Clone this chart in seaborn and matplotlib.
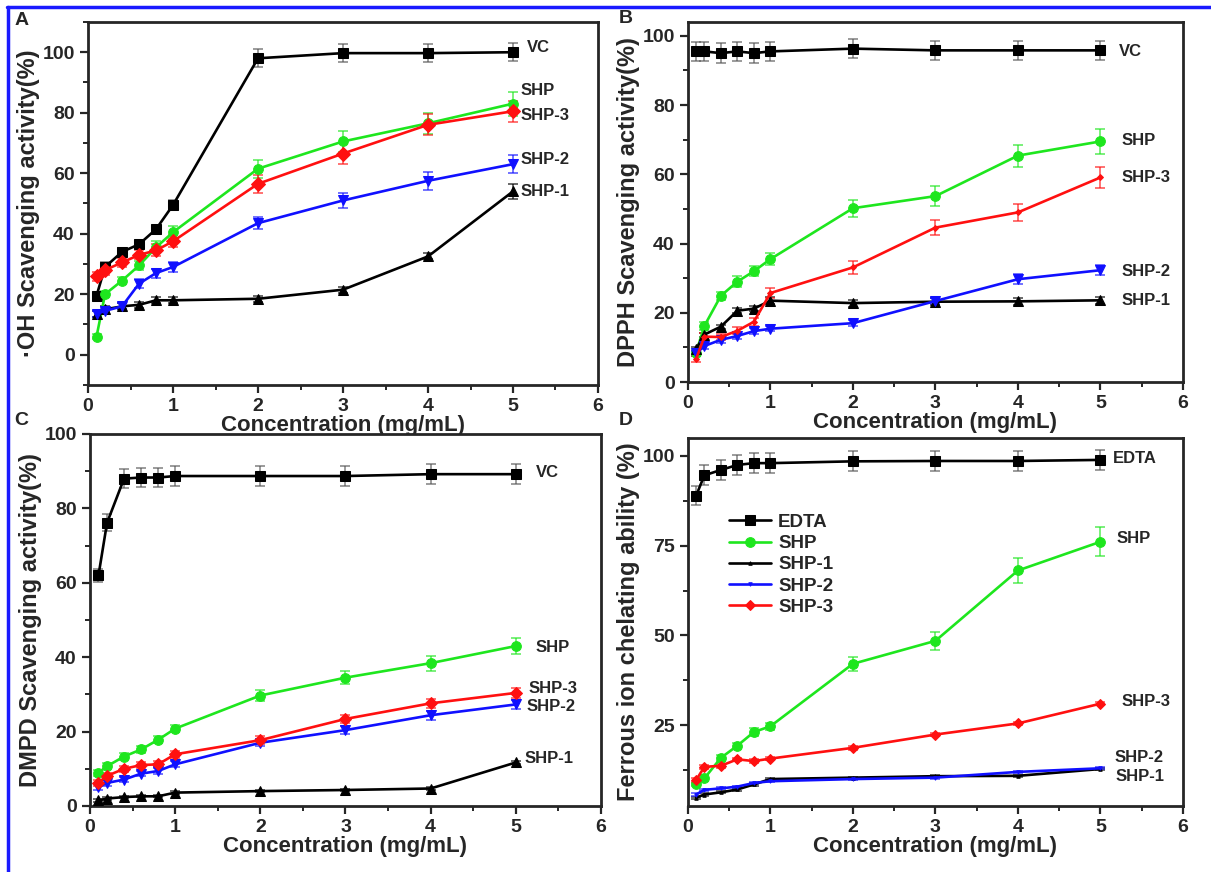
import matplotlib
matplotlib.use("Agg")
import matplotlib.pyplot as plt
from matplotlib.lines import Line2D
from matplotlib.ticker import MultipleLocator
import pandas as pd
import seaborn as sns

# concentrations (mg/mL)
conc = [0.1, 0.2, 0.4, 0.6, 0.8, 1, 2, 3, 4, 5]

# A: .OH scavenging
oh_vc = [19.5, 29, 34, 36.5, 41.5, 49.5, 98, 99.7, 99.7, 100]
oh_shp = [6, 20, 24.5, 29.5, 35.5, 40.5, 61.5, 70.5, 76.5, 83]
oh_shp1 = [13.5, 15, 16, 16.5, 18, 18, 18.5, 21.5, 32.5, 54]
oh_shp2 = [13.5, 14.5, 16, 23.5, 27, 29, 43.5, 51, 57.5, 63]
oh_shp3 = [26, 28, 30.5, 33, 34.5, 37.5, 56.5, 66.5, 76, 80.5]
oh_vc_err = [1, 1.5, 1.2, 1.2, 1.2, 1.5, 3, 3, 3, 3]
oh_shp_err = [0.8, 1, 1.2, 1.5, 2, 2, 3, 3.5, 3.5, 4]
oh_shp1_err = [1, 1, 1, 1, 1, 1, 1, 1, 1, 2.5]
oh_shp2_err = [1, 1, 1, 1.5, 1.5, 1.5, 2, 2.5, 3, 3]
oh_shp3_err = [1.5, 1.5, 1.5, 1.5, 2, 2, 3, 3.5, 3.5, 3.5]

# B: DPPH scavenging
dpph_vc = [95.5, 95.5, 95, 95.5, 95, 95.5, 96.3, 95.8, 95.8, 95.8]
dpph_shp = [8.5, 16.2, 24.9, 29, 32, 35.5, 50.2, 53.7, 65.4, 69.5]
dpph_shp1 = [9.5, 13.7, 16, 20.6, 21.2, 23.5, 22.8, 23.2, 23.3, 23.6]
dpph_shp2 = [8.3, 10.4, 12.2, 13.3, 14.7, 15.4, 17, 23.4, 29.7, 32.3]
dpph_shp3 = [6.6, 13.1, 13, 14.8, 17.4, 25.7, 33.1, 44.6, 49, 59.1]
dpph_vc_err = [2.8, 2.8, 2.8, 2.8, 2.8, 2.8, 2.8, 2.8, 2.8, 2.8]
dpph_shp_err = [1, 1.2, 1.2, 1.5, 1.5, 1.8, 2.5, 2.8, 3.2, 3.5]
dpph_shp1_err = [0.5, 0.6, 0.6, 0.8, 0.8, 1, 1, 1, 1, 1]
dpph_shp2_err = [0.8, 0.8, 0.8, 0.8, 0.8, 0.8, 0.8, 1, 1.5, 1.5]
dpph_shp3_err = [0.8, 1, 1, 1, 1.2, 1.5, 1.8, 2.2, 2.5, 3]

# C: DMPD scavenging
dmpd_vc = [62, 76.1, 88, 88.3, 88.3, 88.7, 88.7, 88.7, 89.2, 89.2]
dmpd_shp = [8.9, 10.7, 13.3, 15.2, 17.8, 20.8, 29.7, 34.5, 38.4, 43]
dmpd_shp1 = [1.5, 2, 2.4, 2.6, 2.6, 3.6, 4, 4.3, 4.7, 11.7]
dmpd_shp2 = [5.1, 6.2, 7.1, 8.7, 9.4, 11.2, 17, 20.4, 24.4, 27.3]
dmpd_shp3 = [6.3, 8.1, 10, 11, 11.2, 13.9, 17.7, 23.4, 27.6, 30.4]
dmpd_vc_err = [1.7, 2.3, 2.6, 2.6, 2.6, 2.6, 2.6, 2.6, 2.6, 2.6]
dmpd_shp_err = [0.8, 0.8, 1, 1, 1, 1, 1.5, 1.8, 2, 2.2]
dmpd_shp1_err = [0.3, 0.3, 0.3, 0.3, 0.3, 0.3, 0.3, 0.3, 0.3, 0.5]
dmpd_shp2_err = [0.7, 0.7, 0.7, 0.7, 0.8, 0.8, 0.8, 1, 1.2, 1.2]
dmpd_shp3_err = [0.8, 0.8, 0.8, 0.8, 0.8, 1, 1, 1, 1.2, 1.3]

# D: ferrous ion chelating
fe_edta = [88.9, 94.6, 96.1, 97.5, 98, 98, 98.5, 98.6, 98.6, 98.9]
fe_shp = [8.5, 10.2, 15.9, 19.3, 23.1, 24.7, 42.1, 48.5, 68.1, 76.1]
fe_shp1 = [4.8, 5.7, 6.3, 7.1, 8.5, 10, 10.4, 10.8, 10.9, 12.8]
fe_shp2 = [5.7, 7.0, 7.4, 7.9, 8.9, 9.4, 10, 10.4, 12, 13]
fe_shp3 = [9.7, 13.4, 13.7, 15.5, 15, 15.7, 18.7, 22.4, 25.5, 31]
fe_edta_err = [2.6, 2.8, 2.8, 2.8, 2.8, 2.8, 2.8, 2.8, 2.8, 2.8]
fe_shp_err = [0.5, 0.8, 0.8, 0.8, 1, 1, 2, 2.5, 3.5, 4]
fe_shp1_err = [0.3] * 10
fe_shp2_err = [0.3] * 10
fe_shp3_err = [0.5] * 10

names = ["VC", "SHP", "SHP-1", "SHP-2", "SHP-3"]
colors = ["black", "#1ee61e", "black", "#1010ff", "#ff1010"]
markers = ["s", "o", "^", "v", "D"]

sns.set_style("ticks")
plt.rcParams["font.family"] = ["Liberation Sans", "DejaVu Sans"]
plt.rcParams["font.weight"] = "bold"
plt.rcParams["axes.labelweight"] = "bold"

fig = plt.figure(figsize=(12.11, 8.72), dpi=100)
axA = fig.add_axes([0.0727, 0.5585, 0.4211, 0.4163])
axB = fig.add_axes([0.568, 0.5619, 0.4089, 0.4129])
axC = fig.add_axes([0.0743, 0.0757, 0.422, 0.4266])
axD = fig.add_axes([0.568, 0.0757, 0.4089, 0.422])


def draw(ax, series, errs, first_name, msizes):
    for i, (vals, err) in enumerate(zip(series, errs)):
        name = first_name if i == 0 else names[i]
        df = pd.DataFrame({"conc": conc, "val": vals})
        ecol = "#555555" if i == 0 else colors[i]
        ax.errorbar(conc, vals, yerr=err, fmt="none", ecolor=ecol, alpha=0.75,
                    elinewidth=1.1, capsize=3.5, capthick=1.1, zorder=2)
        sns.lineplot(data=df, x="conc", y="val", ax=ax, color=colors[i],
                     marker=markers[i], markersize=msizes[i], markeredgecolor=colors[i],
                     linewidth=1.9, label=name, zorder=3)


def style(ax, ylabel, ylim, ymajor, yminor):
    ax.set_xlim(0, 6)
    ax.set_ylim(*ylim)
    ax.xaxis.set_major_locator(MultipleLocator(1))
    ax.xaxis.set_minor_locator(MultipleLocator(0.5))
    ax.yaxis.set_major_locator(MultipleLocator(ymajor))
    ax.yaxis.set_minor_locator(MultipleLocator(yminor))
    ax.tick_params(which="major", direction="out", length=6, width=1.6, labelsize=14)
    ax.tick_params(which="minor", direction="out", length=3.5, width=1.4)
    for s in ax.spines.values():
        s.set_linewidth(2)
        s.set_visible(True)
    for lab in ax.get_xticklabels() + ax.get_yticklabels():
        lab.set_fontweight("bold")
    ax.set_xlabel("Concentration (mg/mL)", fontsize=16, fontweight="bold", labelpad=0)
    ax.set_ylabel(ylabel, fontsize=17, fontweight="bold", labelpad=2)


draw(axA, [oh_vc, oh_shp, oh_shp1, oh_shp2, oh_shp3],
     [oh_vc_err, oh_shp_err, oh_shp1_err, oh_shp2_err, oh_shp3_err], "VC", [6.5, 7, 7, 7.5, 7])
style(axA, "·OH Scavenging activity(%)", (-10, 110), 20, 10)

draw(axB, [dpph_vc, dpph_shp, dpph_shp1, dpph_shp2, dpph_shp3],
     [dpph_vc_err, dpph_shp_err, dpph_shp1_err, dpph_shp2_err, dpph_shp3_err], "VC", [6.5, 7, 6.5, 7, 3])
style(axB, "DPPH Scavenging activity(%)", (0, 104), 20, 10)

draw(axC, [dmpd_vc, dmpd_shp, dmpd_shp1, dmpd_shp2, dmpd_shp3],
     [dmpd_vc_err, dmpd_shp_err, dmpd_shp1_err, dmpd_shp2_err, dmpd_shp3_err], "VC", [6.5, 7, 6.5, 7, 6.5])
style(axC, "DMPD Scavenging activity(%)", (0, 100), 20, 10)

draw(axD, [fe_edta, fe_shp, fe_shp1, fe_shp2, fe_shp3],
     [fe_edta_err, fe_shp_err, fe_shp1_err, fe_shp2_err, fe_shp3_err], "EDTA", [6.5, 7, 2.5, 2.5, 5.5])
style(axD, "Ferrous ion chelating ability (%)", (2.5, 105), 25, 12.5)

for ax in (axA, axB, axC):
    ax.get_legend().remove()
leg = axD.legend(loc="upper left", bbox_to_anchor=(0.05, 0.84), frameon=False,
                 prop={"weight": "bold", "size": 13.5}, handlelength=2.2,
                 labelspacing=0.22, handletextpad=0.4)

# end-of-line labels
lab_kw = dict(fontsize=12, fontweight="bold", va="center", ha="left")
for x, y, t in [(5.16, 101.5, "VC"), (5.09, 87.5, "SHP"), (5.09, 79, "SHP-3"),
                (5.09, 64.4, "SHP-2"), (5.09, 53.8, "SHP-1")]:
    axA.text(x, y, t, **lab_kw)
for x, y, t in [(5.22, 95.4, "VC"), (5.25, 69.9, "SHP"), (5.25, 59.1, "SHP-3"),
                (5.25, 31.9, "SHP-2"), (5.25, 23.5, "SHP-1")]:
    axB.text(x, y, t, **lab_kw)
for x, y, t in [(5.24, 89.7, "VC"), (5.23, 42.7, "SHP"), (5.15, 31.6, "SHP-3"),
                (5.12, 26.8, "SHP-2"), (5.1, 12.7, "SHP-1")]:
    axC.text(x, y, t, **lab_kw)
for x, y, t in [(5.15, 99.2, "EDTA"), (5.2, 76.9, "SHP"), (5.26, 31.5, "SHP-3"),
                (5.17, 15.9, "SHP-2"), (5.18, 10.6, "SHP-1")]:
    axD.text(x, y, t, **lab_kw)

# panel letters
for x, y, t in [(0.012, 0.986, "A"), (0.511, 0.988, "B"), (0.012, 0.528, "C"), (0.511, 0.528, "D")]:
    fig.text(x, y, t, fontsize=14, fontweight="bold", va="top")

# blue frame on top and left
fig.add_artist(Line2D([0.006, 1.0], [0.992, 0.992], color="#1a1aff", lw=2.5))
fig.add_artist(Line2D([0.007, 0.007], [0.0, 0.992], color="#1a1aff", lw=2.5))

fig.savefig("out.png", dpi=100)
